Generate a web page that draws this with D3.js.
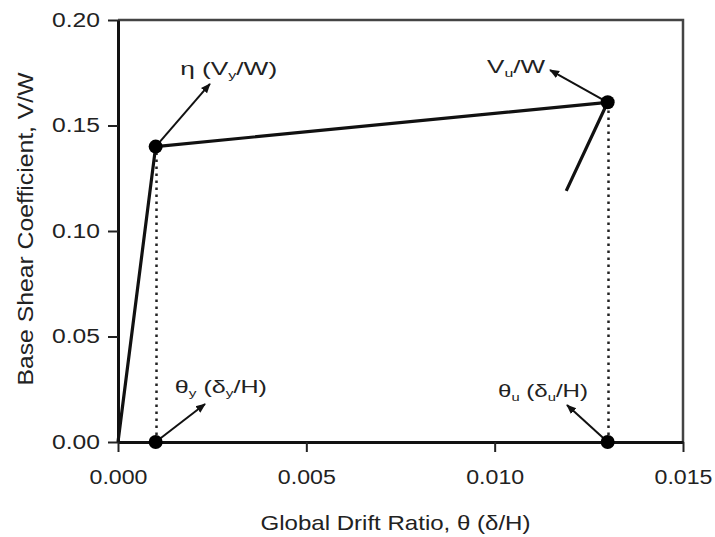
<!DOCTYPE html>
<html>
<head>
<meta charset="utf-8">
<script src="https://cdn.jsdelivr.net/npm/d3@7"></script>
<style>
  body { margin: 0; background: #fff; }
  svg text { font-family: "Liberation Sans", Arial, sans-serif; fill: #222; }
</style>
</head>
<body>
<svg id="chart" width="715" height="537"></svg>
<script>
// pushover curve
var driftRatio = [0, 0.001, 0.013, 0.0119];
var shearCoef = [0, 0.14, 0.161, 0.119];

// key points (yield, ultimate and their drift positions)
var markerDrift = [0.001, 0.013, 0.001, 0.013];
var markerShear = [0.14, 0.161, 0, 0];

// dotted guides: from axis up to the points
var guideDrift = [0.001, 0.013];
var guideTop = [0.14, 0.161];

var xTicks = [0, 0.005, 0.010, 0.015];
var yTicks = [0, 0.05, 0.10, 0.15, 0.20];

// annotation arrows: start point -> tip, in data units
var arrowFromX = [0.001, 0.013, 0.001, 0.013];
var arrowFromY = [0.14, 0.161, 0, 0];
var arrowToX = [0.00244, 0.01147, 0.00231, 0.01192];
var arrowToY = [0.1697, 0.1763, 0.018, 0.0175];

var svg = d3.select('#chart');
var mLeft = 118, mRight = 683, mTop = 20, mBottom = 442;

var x = d3.scaleLinear().domain([0, 0.015]).range([mLeft, mRight]);
var y = d3.scaleLinear().domain([0, 0.20]).range([mBottom, mTop]);

var defs = svg.append('defs');
defs.append('marker')
    .attr('id', 'head')
    .attr('viewBox', '0 0 10 10')
    .attr('refX', 9).attr('refY', 5)
    .attr('markerWidth', 10).attr('markerHeight', 10)
    .attr('markerUnits', 'userSpaceOnUse')
    .attr('orient', 'auto')
    .append('path')
    .attr('d', 'M0,1 L10,5 L0,9 Z')
    .attr('fill', '#111');

// frame top / right
svg.append('path')
   .attr('d', 'M' + mLeft + ',' + mTop + 'H' + mRight + 'V' + mBottom)
   .attr('fill', 'none')
   .attr('stroke', '#444')
   .attr('stroke-width', 2.5);

// axes
var yAxis = svg.append('g')
   .attr('transform', 'translate(' + mLeft + ',0)')
   .call(d3.axisLeft(y).tickValues(yTicks).tickSize(10).tickSizeOuter(0).tickPadding(8)
         .tickFormat(d3.format('.2f')));
var xAxis = svg.append('g')
   .attr('transform', 'translate(0,' + mBottom + ')')
   .call(d3.axisBottom(x).tickValues(xTicks).tickSize(10).tickSizeOuter(0).tickPadding(18)
         .tickFormat(d3.format('.3f')));

[yAxis, xAxis].forEach(function(g) {
  g.select('.domain').attr('stroke', '#111').attr('stroke-width', 3);
  g.selectAll('.tick line').attr('stroke', '#222').attr('stroke-width', 2);
  g.selectAll('.tick text')
   .attr('font-size', 20)
   .attr('font-family', '"Liberation Sans", Arial, sans-serif')
   .attr('fill', '#222')
   .attr('lengthAdjust', 'spacingAndGlyphs');
});
yAxis.selectAll('.tick text').attr('textLength', 48);
xAxis.selectAll('.tick text').attr('textLength', 58);

// dotted guides
svg.selectAll('.guide')
   .data(guideDrift)
   .enter()
   .append('line')
   .attr('class', 'guide')
   .attr('x1', function(d) { return Math.round(x(d)) + 0.5; })
   .attr('x2', function(d) { return Math.round(x(d)) + 0.5; })
   .attr('y1', y(0))
   .attr('y2', function(d, i) { return y(guideTop[i]); })
   .attr('stroke', '#222')
   .attr('stroke-width', 2.5)
   .attr('stroke-dasharray', '2.5,4.5');

// curve
var line = d3.line()
   .x(function(d) { return x(driftRatio[d]); })
   .y(function(d) { return y(shearCoef[d]); });
svg.append('path')
   .attr('d', line(d3.range(driftRatio.length)))
   .attr('fill', 'none')
   .attr('stroke', '#111')
   .attr('stroke-width', 3.2)
   .attr('stroke-linejoin', 'round');

// arrows
svg.selectAll('.arrow')
   .data(arrowFromX)
   .enter()
   .append('line')
   .attr('class', 'arrow')
   .attr('x1', function(d) { return x(d); })
   .attr('y1', function(d, i) { return y(arrowFromY[i]); })
   .attr('x2', function(d, i) { return x(arrowToX[i]); })
   .attr('y2', function(d, i) { return y(arrowToY[i]); })
   .attr('stroke', '#111')
   .attr('stroke-width', 2)
   .attr('marker-end', 'url(#head)');

// markers
svg.selectAll('.pt')
   .data(markerDrift)
   .enter()
   .append('circle')
   .attr('class', 'pt')
   .attr('cx', function(d) { return x(d); })
   .attr('cy', function(d, i) { return y(markerShear[i]); })
   .attr('r', 7)
   .attr('fill', '#000');

// labels
function label(px, py, anchor, len, parts) {
  var t = svg.append('text')
     .attr('x', x(px)).attr('y', y(py))
     .attr('font-size', 18)
     .attr('text-anchor', anchor)
     .attr('textLength', len)
     .attr('lengthAdjust', 'spacingAndGlyphs');
  parts.forEach(function(p) {
    var s = t.append('tspan').text(p[0]);
    if (p[1] === 'sub') s.attr('font-size', 11).attr('dy', 4);
    if (p[1] === 'up') s.attr('dy', -4);
  });
}
label(0.00165, 0.174, 'start', 97, [['η (V'], ['y', 'sub'], ['/W)', 'up']]);
label(0.01134, 0.175, 'end', 58, [['V'], ['u', 'sub'], ['/W', 'up']]);
label(0.00151, 0.0232, 'start', 92, [['θ'], ['y', 'sub'], [' (δ', 'up'], ['y', 'sub'], ['/H)', 'up']]);
label(0.01009, 0.0213, 'start', 90, [['θ'], ['u', 'sub'], [' (δ', 'up'], ['u', 'sub'], ['/H)', 'up']]);

// axis titles
svg.append('text')
   .attr('x', (mLeft + mRight) / 2 - 5)
   .attr('y', 530)
   .attr('text-anchor', 'middle')
   .attr('font-size', 21)
   .attr('textLength', 270)
   .attr('lengthAdjust', 'spacingAndGlyphs')
   .text('Global Drift Ratio, θ (δ/H)');
svg.append('text')
   .attr('transform', 'translate(33,' + 229 + ') rotate(-90)')
   .attr('text-anchor', 'middle')
   .attr('font-size', 22)
   .attr('textLength', 313)
   .attr('lengthAdjust', 'spacingAndGlyphs')
   .text('Base Shear Coefficient, V/W');
</script>
</body>
</html>
